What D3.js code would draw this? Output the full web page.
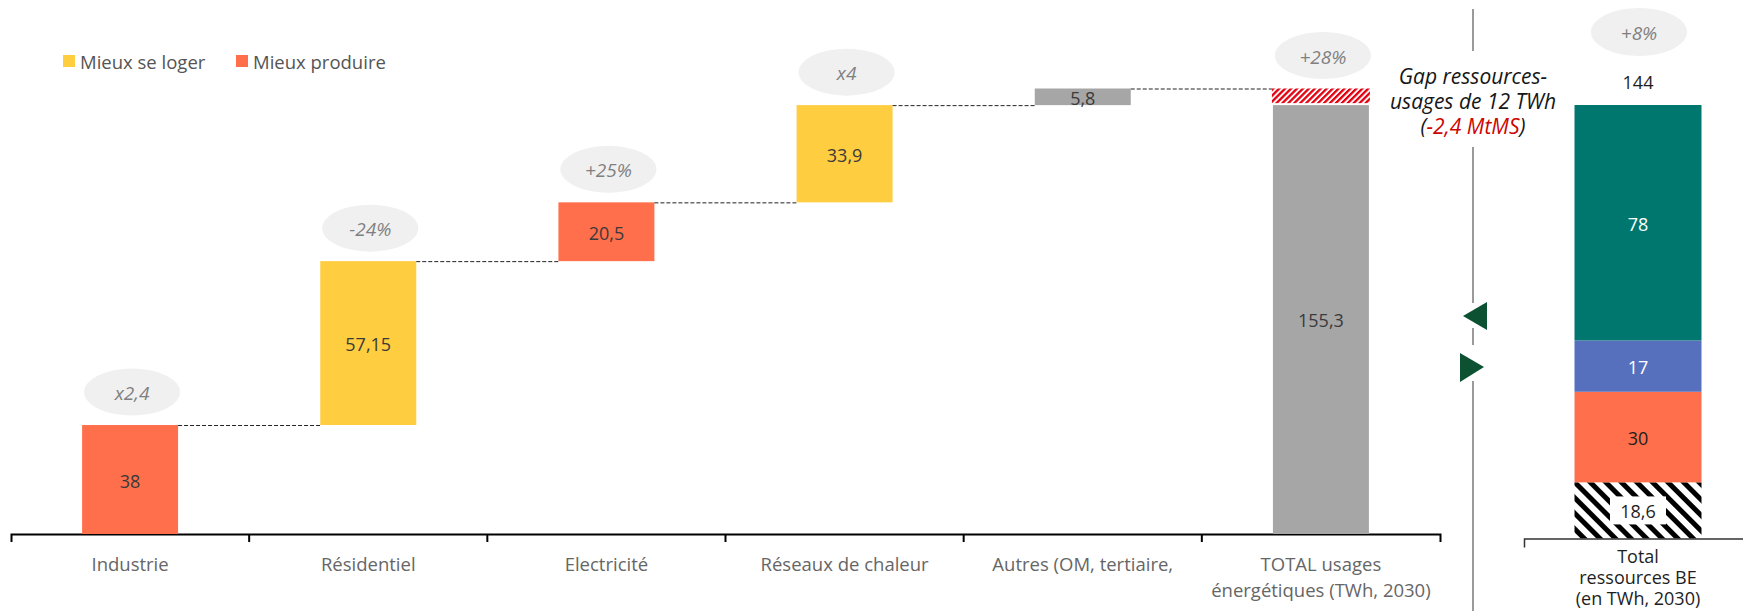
<!DOCTYPE html>
<html lang="fr">
<head>
<meta charset="utf-8">
<script src="https://cdn.jsdelivr.net/npm/d3@7"></script>
<style>
  html,body{margin:0;padding:0;background:#fff;}
  svg{display:block;font-family:"Open Sans",sans-serif;}
</style>
</head>
<body>
<svg id="chart" width="1743" height="611"></svg>
<script>
// ── Data ──
const categories=["Industrie","Résidentiel","Electricité","Réseaux de chaleur","Autres (OM, tertiaire,","TOTAL usages|énergétiques (TWh, 2030)"];
const stepValues=[38,57.15,20.5,33.9,5.8];
const stepLabels=["38","57,15","20,5","33,9","5,8"];
const stepGroups=["produire","loger","produire","loger","autres"];
const growthLabels=["x2,4","-24%","+25%","x4",null,"+28%"];
const totalLabel="155,3";
const totalSolid=149.55;   // gray part of the TOTAL bar (top aligned with Réseaux)
const totalTop=155.35;     // top of the hatched gap

const legendItems=[{key:"loger",label:"Mieux se loger"},{key:"produire",label:"Mieux produire"}];

const resourceCategory=["Total|ressources BE|(en TWh, 2030)"];
const resourceValues=[18.6,30,17,78];
const resourceLabels=["18,6","30","17","78"];
const resourceKinds=["hatch","coral","blue","teal"];
const resourceTotalLabel="144";
const resourceGrowth="+8%";

const gapLines=["Gap ressources-","usages de 12 TWh"];
const gapValueText="-2,4 MtMS";

const COL={loger:'#FFCD40',produire:'#FF6F4C',autres:'#A6A6A6',coral:'#FF6F4C',blue:'#5770BE',teal:'#00776E',
  ell:'#F0F0F0',ellText:'#808080',label:'#3a3a3a',axisText:'#666',tri:'#0B5132',red:'#CE0500'};

const svg=d3.select('#chart');

// ── Patterns ──
const defs=svg.append('defs');
const pRed=defs.append('pattern').attr('id','hatchRed').attr('patternUnits','userSpaceOnUse')
  .attr('width',4.2).attr('height',4.2).attr('patternTransform','rotate(45)');
pRed.append('rect').attr('width',4.2).attr('height',4.2).attr('fill','#fff');
pRed.append('rect').attr('width',2.3).attr('height',4.2).attr('fill','#E1000F');
const pBlk=defs.append('pattern').attr('id','hatchBlack').attr('patternUnits','userSpaceOnUse')
  .attr('width',11).attr('height',11).attr('patternTransform','rotate(-45)');
pBlk.append('rect').attr('width',11).attr('height',11).attr('fill','#fff');
pBlk.append('rect').attr('width',5).attr('height',11).attr('fill','#000');

// ── Scales ──
const x=d3.scaleBand().domain(categories).range([11,1440]).padding(0);
const y=d3.scaleLinear().domain([0,totalTop]).range([534,88.5]);
const xr=d3.scaleBand().domain(resourceCategory).range([1524,1752]).padding(0);
const yr=d3.scaleLinear().domain([0,d3.sum(resourceValues)]).range([538.5,105]);
const barW=x.bandwidth()*0.403;
const barWr=xr.bandwidth()*0.557;
const cx=c=>x(c)+x.bandwidth()/2;

// ── Left axis ──
const gAx=svg.append('g').attr('transform',`translate(0,${y(0)})`)
  .call(d3.axisBottom(x).tickSize(0).tickSizeOuter(8).tickFormat(''));
gAx.select('.domain').attr('stroke','#000').attr('stroke-width',2);
gAx.selectAll('.tick line').remove();
gAx.selectAll('.bnd').data(categories.slice(1)).enter().append('line')
  .attr('x1',d=>x(d)).attr('x2',d=>x(d)).attr('y1',0).attr('y2',8)
  .attr('stroke','#000').attr('stroke-width',2);

svg.append('g').selectAll('text').data(categories).enter().append('text')
  .attr('x',d=>cx(d)).attr('y',563).attr('text-anchor','middle')
  .attr('font-size',18.5).attr('fill',COL.axisText).attr('dominant-baseline','central')
  .each(function(d){
    d.split('|').forEach((t,i)=>d3.select(this).append('tspan').attr('x',cx(d)).attr('dy',i?26:0).text(t));
  });

// ── Waterfall steps ──
let run=0;
const steps=stepValues.map((v,i)=>{const s={cat:categories[i],base:run,top:run+v,label:stepLabels[i],group:stepGroups[i]};run+=v;return s;});

svg.append('g').selectAll('rect').data(steps).enter().append('rect')
  .attr('x',d=>cx(d.cat)-barW/2).attr('width',barW)
  .attr('y',d=>y(d.top)).attr('height',d=>y(d.base)-y(d.top))
  .attr('fill',d=>COL[d.group]);

svg.append('g').selectAll('text').data(steps).enter().append('text')
  .attr('x',d=>cx(d.cat)).attr('y',d=>(y(d.base)+y(d.top))/2+1)
  .attr('text-anchor','middle').attr('dominant-baseline','central')
  .attr('font-size',18).attr('fill',COL.label).text(d=>d.label);

// TOTAL bar
const totCat=categories[5];
svg.append('rect').attr('x',cx(totCat)-barW/2).attr('width',barW)
  .attr('y',y(totalSolid)).attr('height',y(0)-y(totalSolid)).attr('fill',COL.autres);
svg.append('rect').attr('x',cx(totCat)-barW/2-1).attr('width',barW+2)
  .attr('y',y(totalTop)).attr('height',y(totalSolid)-y(totalTop)-2).attr('fill','url(#hatchRed)');
svg.append('text').attr('x',cx(totCat)).attr('y',(y(0)+y(totalSolid))/2)
  .attr('text-anchor','middle').attr('dominant-baseline','central')
  .attr('font-size',18).attr('fill',COL.label).text(totalLabel);

// Dashed connectors
const conn=steps.map((s,i)=>({x1:cx(s.cat)+barW/2,x2:cx(categories[i+1])-barW/2-(i===4?1:0),yv:s.top}));
svg.append('g').selectAll('line').data(conn).enter().append('line')
  .attr('x1',d=>d.x1).attr('x2',d=>d.x2).attr('y1',d=>y(d.yv)+0.5).attr('y2',d=>y(d.yv)+0.5)
  .attr('stroke','#222').attr('stroke-width',1).attr('stroke-dasharray','4,2');

// Growth ellipses
const tops=steps.map(s=>s.top).concat([totalTop]);
const ell=svg.append('g').selectAll('g').data(categories.map((c,i)=>({c,lab:growthLabels[i],top:tops[i]})).filter(d=>d.lab))
  .enter().append('g').attr('transform',d=>`translate(${cx(d.c)+2},${y(d.top)-33})`);
ell.append('ellipse').attr('rx',48).attr('ry',23.5).attr('fill',COL.ell);
ell.append('text').attr('text-anchor','middle').attr('dominant-baseline','central').attr('y',1)
  .attr('font-size',19).attr('font-style','italic').attr('fill',COL.ellText).text(d=>d.lab);

// ── Legend ──
const lg=svg.append('g').selectAll('g').data(legendItems).enter().append('g')
  .attr('transform',(d,i)=>`translate(${i?236:63},55)`);
lg.append('rect').attr('width',12).attr('height',12).attr('fill',d=>COL[d.key]);
lg.append('text').attr('x',17).attr('y',6).attr('dominant-baseline','central')
  .attr('font-size',18.5).attr('fill','#555').text(d=>d.label);

// ── Divider + gap annotation ──
svg.append('line').attr('x1',1473).attr('x2',1473).attr('y1',9).attr('y2',611)
  .attr('stroke','#9a9a9a').attr('stroke-width',2);
svg.append('rect').attr('x',1378).attr('y',51).attr('width',194).attr('height',96).attr('fill','#fff');
const gapG=svg.append('g').attr('font-size',21).attr('font-style','italic').attr('fill','#161616').attr('text-anchor','middle');
gapLines.forEach((t,i)=>gapG.append('text').attr('x',1473).attr('y',76+i*25).attr('dominant-baseline','central').text(t));
const gl=gapG.append('text').attr('x',1473).attr('y',126).attr('dominant-baseline','central');
gl.append('tspan').text('(');
gl.append('tspan').attr('fill',COL.red).text(gapValueText);
gl.append('tspan').text(')');

svg.append('rect').attr('x',1466).attr('y',303).attr('width',14).attr('height',25).attr('fill','#fff');
svg.append('rect').attr('x',1466).attr('y',345).attr('width',14).attr('height',36).attr('fill','#fff');
svg.append('path').attr('d','M1463,316L1487,302L1487,330Z').attr('fill',COL.tri);
svg.append('path').attr('d','M1484,367L1460,353L1460,382Z').attr('fill',COL.tri);

// ── Right stacked bar ──
const rc=resourceCategory[0];
const rcx=xr(rc)+xr.bandwidth()/2;
let acc=0;
const segs=resourceValues.map((v,i)=>{const s={b:acc,t:acc+v,label:resourceLabels[i],kind:resourceKinds[i]};acc+=v;return s;});
svg.append('g').selectAll('rect').data(segs).enter().append('rect')
  .attr('x',rcx-barWr/2).attr('width',barWr)
  .attr('y',d=>yr(d.t)).attr('height',d=>yr(d.b)-yr(d.t))
  .attr('fill',d=>d.kind==='hatch'?'url(#hatchBlack)':COL[d.kind]);
const hs=segs[0];
svg.append('rect').attr('x',rcx-28).attr('y',(yr(hs.b)+yr(hs.t))/2-14).attr('width',56).attr('height',28).attr('fill','#fff');
svg.append('g').selectAll('text').data(segs).enter().append('text')
  .attr('x',rcx).attr('y',d=>(yr(d.b)+yr(d.t))/2+1)
  .attr('text-anchor','middle').attr('dominant-baseline','central').attr('font-size',18)
  .attr('fill',d=>(d.kind==='teal'||d.kind==='blue')?'#fff':'#1e1e1e').text(d=>d.label);

svg.append('text').attr('x',rcx).attr('y',yr(acc)-23).attr('text-anchor','middle').attr('dominant-baseline','central')
  .attr('font-size',18).attr('fill','#1e1e1e').text(resourceTotalLabel);
const re=svg.append('g').attr('transform',`translate(${rcx+1},${yr(acc)-73})`);
re.append('ellipse').attr('rx',48).attr('ry',24).attr('fill',COL.ell);
re.append('text').attr('text-anchor','middle').attr('dominant-baseline','central').attr('y',1)
  .attr('font-size',19).attr('font-style','italic').attr('fill',COL.ellText).text(resourceGrowth);

const gAr=svg.append('g').attr('transform',`translate(0,${yr(0)})`)
  .call(d3.axisBottom(xr).tickSize(0).tickSizeOuter(9).tickFormat(''));
gAr.select('.domain').attr('stroke','#333').attr('stroke-width',1.5);
svg.append('text').attr('x',rcx).attr('text-anchor','middle').attr('font-size',18).attr('fill','#1e1e1e')
  .selectAll('tspan').data(rc.split('|')).enter().append('tspan')
  .attr('x',rcx).attr('y',(d,i)=>556+i*21).attr('dominant-baseline','central').text(d=>d);
</script>
</body>
</html>
